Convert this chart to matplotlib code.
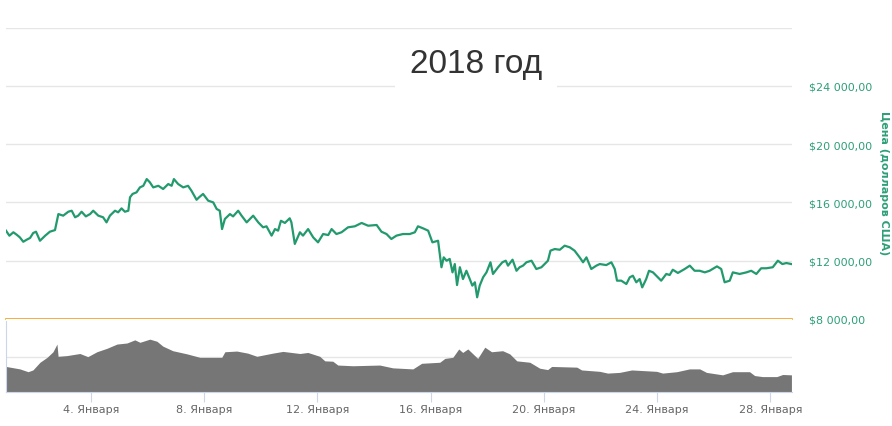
import numpy as np
import pandas as pd
import matplotlib
matplotlib.use("Agg")
import matplotlib.pyplot as plt
import matplotlib.dates as mdates
from matplotlib.ticker import FuncFormatter

# price series: day of January 2018 (fractional) and price, USD
price_days = [1.00, 1.12, 1.26, 1.38, 1.49, 1.61, 1.73, 1.85, 1.96, 2.06, 2.20, 2.38, 2.55, 2.73,
              2.85, 3.02, 3.20, 3.32, 3.44, 3.55, 3.67, 3.82, 3.97, 4.08, 4.26, 4.43, 4.55, 4.67,
              4.85, 4.96, 5.08, 5.20, 5.32, 5.38, 5.47, 5.61, 5.73, 5.85, 5.97, 6.08, 6.20, 6.38,
              6.55, 6.73, 6.85, 6.93, 7.08, 7.26, 7.43, 7.55, 7.73, 7.82, 7.96, 8.14, 8.32, 8.44,
              8.55, 8.63, 8.73, 8.91, 9.02, 9.20, 9.32, 9.50, 9.73, 9.91, 10.08, 10.20, 10.38,
              10.50, 10.61, 10.71, 10.85, 11.02, 11.08, 11.20, 11.38, 11.49, 11.67, 11.85, 12.02,
              12.20, 12.38, 12.50, 12.67, 12.85, 13.08, 13.32, 13.56, 13.79, 14.09, 14.26, 14.44,
              14.61, 14.79, 15.02, 15.26, 15.44, 15.55, 15.73, 15.91, 16.06, 16.26, 16.38, 16.46,
              16.56, 16.67, 16.77, 16.85, 16.93, 17.03, 17.14, 17.26, 17.38, 17.47, 17.56, 17.64,
              17.73, 17.85, 17.97, 18.11, 18.20, 18.38, 18.53, 18.65, 18.73, 18.89, 19.03, 19.14,
              19.26, 19.38, 19.56, 19.73, 19.91, 20.14, 20.23, 20.38, 20.56, 20.73, 20.91, 21.08,
              21.26, 21.38, 21.50, 21.67, 21.85, 21.97, 22.20, 22.38, 22.50, 22.58, 22.73, 22.91,
              23.03, 23.14, 23.26, 23.38, 23.47, 23.61, 23.71, 23.85, 24.02, 24.14, 24.32, 24.44,
              24.55, 24.73, 24.97, 25.15, 25.32, 25.50, 25.68, 25.85, 26.11, 26.26, 26.38, 26.56,
              26.67, 26.91, 27.15, 27.32, 27.50, 27.67, 27.85, 28.08, 28.26, 28.42, 28.56, 28.74]
price_usd = [14060, 13715, 13950, 13780, 13600, 13300, 13440, 13560, 13900, 13990, 13370, 13710, 13990, 14100,
             15200, 15090, 15360, 15430, 14980, 15090, 15360, 15040, 15200, 15430, 15090, 14980, 14630, 15090,
             15430, 15320, 15590, 15360, 15430, 16350, 16580, 16690, 17030, 17140, 17600, 17380, 17030, 17140,
             16920, 17260, 17140, 17600, 17260, 17030, 17140, 16800, 16180, 16350, 16580, 16120, 16000, 15550,
             15430, 14170, 14860, 15200, 15040, 15430, 15090, 14630, 15090, 14630, 14290, 14360, 13720,
             14170, 14060, 14740, 14590, 14910, 14630, 13150, 13950, 13720, 14170, 13600, 13260,
             13830, 13760, 14170, 13830, 13950, 14290, 14360, 14590, 14400, 14450, 13990, 13830,
             13490, 13720, 13830, 13830, 13950, 14360, 14220, 14060, 13260, 13370, 11550, 12230,
             12000, 12120, 11200, 11770, 10330, 11550, 10740, 11310, 10740, 10290, 10520, 9490,
             10290, 10860, 11200, 11890, 11090, 11550, 11890, 12000, 11660, 12070, 11310, 11550,
             11660, 11890, 12000, 11430, 11550, 12000, 12690, 12800, 12750, 13030, 12920, 12690,
             12230, 11890, 12230, 11430, 11660, 11770, 11700, 11890, 11430, 10630, 10630, 10400,
             10860, 10970, 10520, 10740, 10170, 10740, 11310, 11200, 10860, 10630, 11090, 11020,
             11380, 11160, 11430, 11660, 11310, 11310, 11200, 11310, 11610, 11430, 10520, 10630,
             11200, 11090, 11200, 11310, 11090, 11480, 11480, 11550, 12000, 11770, 11840, 11770]

# trading volume (relative units, grid line = 10)
volume_days = [1.00, 1.49, 1.78, 1.95, 2.20, 2.45, 2.66, 2.80, 2.84, 3.15, 3.61, 3.89, 4.21, 4.57,
               4.92, 5.27, 5.55, 5.73, 6.08, 6.33, 6.54, 6.89, 7.39, 7.85, 8.62, 8.73, 9.15, 9.54,
               9.86, 10.42, 10.78, 11.38, 11.66, 12.08, 12.26, 12.54, 12.72, 13.25, 14.20, 14.66,
               15.37, 15.68, 16.32, 16.50, 16.78, 16.99, 17.13, 17.31, 17.66, 17.91, 18.15, 18.54,
               18.79, 19.04, 19.50, 19.85, 20.13, 20.27, 21.16, 21.33, 21.97, 22.25, 22.67, 23.10,
               23.98, 24.19, 24.69, 25.14, 25.50, 25.74, 26.31, 26.66, 27.26, 27.44, 27.72, 28.22,
               28.43, 28.74]
volume = [7.3, 6.6, 5.8, 6.3, 8.5, 9.9, 11.5, 13.7, 10.2, 10.4, 11.0, 10.1, 11.5, 12.5,
          13.7, 14.0, 14.9, 14.2, 15.1, 14.5, 13.1, 11.8, 10.9, 9.9, 9.9, 11.5, 11.7, 11.1,
          10.2, 11.1, 11.6, 11.0, 11.3, 10.2, 8.9, 8.8, 7.7, 7.5, 7.7, 6.9,
          6.6, 8.2, 8.5, 9.6, 9.9, 12.3, 11.3, 12.3, 9.6, 12.8, 11.5, 11.8,
          10.9, 8.9, 8.5, 6.8, 6.4, 7.3, 7.1, 6.3, 5.9, 5.4, 5.6, 6.3,
          5.9, 5.4, 5.8, 6.6, 6.6, 5.6, 4.9, 5.8, 5.8, 4.7, 4.4, 4.4,
          5.0, 4.9]

price_ticks = [8000, 12000, 16000, 20000, 24000, 28000]
tick_days = [4, 8, 12, 16, 20, 24, 28]

GREEN = "#229a6e"
LABEL_GREEN = "#2e9f78"
GRID = "#e6e6e6"
AXIS = "#ccd6eb"

start = pd.Timestamp("2018-01-01")


def to_dates(days):
    return start + pd.to_timedelta(np.array(days) - 1, unit="D")


fig = plt.figure(figsize=(8.92, 4.27), dpi=100)
ax_p = fig.add_axes([6 / 892, 107 / 427, 786 / 892, 291.5 / 427])
ax_v = fig.add_axes([6 / 892, 34 / 427, 786 / 892, 73 / 427], sharex=ax_p)

# price panel
ax_p.plot(to_dates(price_days), price_usd, color=GREEN, lw=1.6, zorder=3)
ax_p.set_ylim(8000, 28000)
ax_p.set_yticks(price_ticks)
ax_p.yaxis.tick_right()
ax_p.set_yticklabels([("$" + f"{v:,}".replace(",", " ") + ",00") if v < 28000 else "" for v in price_ticks])
ax_p.tick_params(axis="y", length=0, pad=12, labelsize=8, labelcolor=LABEL_GREEN)
ax_p.tick_params(axis="x", which="both", bottom=False, labelbottom=False)
ax_p.grid(axis="y", color=GRID, lw=1)
ax_p.set_axisbelow(True)
for side in ["top", "left", "right"]:
    ax_p.spines[side].set_visible(False)
ax_p.spines["bottom"].set_color("#f7a21b")
ax_p.spines["bottom"].set_linewidth(1.2)
ax_p.spines["bottom"].set_zorder(4)

# volume panel
vd = to_dates(volume_days)
ax_v.fill_between(vd, 0, volume, color="#767676", lw=0, zorder=2)
ax_v.set_ylim(0, 20.86)
ax_v.set_yticks([10])
ax_v.set_yticklabels([])
ax_v.tick_params(axis="y", length=0)
ax_v.grid(axis="y", color=GRID, lw=1)
ax_v.set_axisbelow(True)
for side in ["top", "right"]:
    ax_v.spines[side].set_visible(False)
ax_v.spines["bottom"].set_color(AXIS)
ax_v.spines["left"].set_color(AXIS)
ax_v.spines["left"].set_bounds(0, 20.3)

ax_v.set_xlim(to_dates([1.0])[0], to_dates([28.76])[0])
ax_v.set_xticks(to_dates(tick_days))
ax_v.xaxis.set_major_formatter(FuncFormatter(lambda v, pos: f"{mdates.num2date(v).day}. Января"))
ax_v.tick_params(axis="x", length=7, color=AXIS, pad=1.5, labelsize=8, labelcolor="#666666")

fig.text(884 / 892, 1 - 183 / 427, "Цена (долларов США)", rotation=270, ha="center", va="center",
         fontsize=8, fontweight="bold", color=LABEL_GREEN)

fig.text(476 / 892, 1 - 65 / 427, "2018 год", ha="center", va="center", fontsize=24,
         family="Liberation Sans", color="#333333",
         bbox=dict(boxstyle="square,pad=0.45", facecolor="white", edgecolor="none"))

fig.savefig("out.png", dpi=100, facecolor="white")
